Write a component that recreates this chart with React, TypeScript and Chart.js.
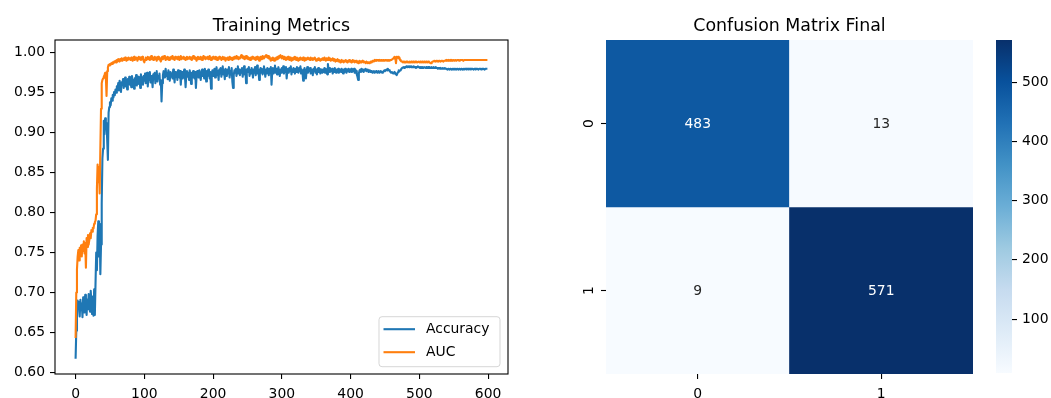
import React, { useEffect, useRef } from 'react';
import { Chart, registerables } from 'chart.js';

Chart.register(...registerables);

// ---------------- data ----------------
const ACCURACY = [
  0.617, 0.652, 0.668, 0.690, 0.681, 0.688, 0.670, 0.691, 0.678, 0.686, 0.669, 0.694, 0.680, 0.675, 0.697, 0.684, 0.672, 0.691, 0.679, 0.698,
  0.683, 0.676, 0.702, 0.688, 0.673, 0.695, 0.671, 0.704, 0.672, 0.712, 0.750, 0.728, 0.771, 0.789, 0.745, 0.786, 0.723, 0.760, 0.812, 0.868,
  0.880, 0.915, 0.898, 0.918, 0.905, 0.912, 0.890, 0.866, 0.925, 0.932, 0.938, 0.934, 0.943, 0.940, 0.947, 0.944, 0.951, 0.947, 0.954, 0.950,
  0.958, 0.954, 0.962, 0.953, 0.965, 0.958, 0.951, 0.963, 0.960, 0.967, 0.956, 0.963, 0.969, 0.958, 0.965, 0.954, 0.967, 0.962, 0.970, 0.960,
  0.964, 0.957, 0.971, 0.962, 0.966, 0.955, 0.968, 0.963, 0.972, 0.959, 0.966, 0.970, 0.961, 0.968, 0.956, 0.973, 0.964, 0.969, 0.960, 0.971,
  0.965, 0.974, 0.962, 0.969, 0.975, 0.958, 0.970, 0.966, 0.976, 0.963, 0.971, 0.968, 0.957, 0.973, 0.967, 0.975, 0.962, 0.970, 0.977, 0.964,
  0.971, 0.968, 0.974, 0.960, 0.966, 0.939, 0.962, 0.972, 0.977, 0.969, 0.974, 0.980, 0.971, 0.975, 0.967, 0.978, 0.972, 0.965, 0.976, 0.970,
  0.974, 0.968, 0.979, 0.972, 0.963, 0.976, 0.970, 0.975, 0.966, 0.978, 0.972, 0.969, 0.977, 0.960, 0.973, 0.976, 0.968, 0.974, 0.979, 0.971,
  0.957, 0.973, 0.977, 0.970, 0.975, 0.966, 0.978, 0.972, 0.961, 0.975, 0.969, 0.977, 0.973, 0.968, 0.976, 0.956, 0.971, 0.977, 0.974, 0.969,
  0.978, 0.972, 0.966, 0.975, 0.979, 0.971, 0.976, 0.968, 0.980, 0.973, 0.964, 0.977, 0.971, 0.979, 0.974, 0.968, 0.976, 0.955, 0.973, 0.978,
  0.971, 0.976, 0.980, 0.969, 0.975, 0.982, 0.972, 0.977, 0.966, 0.979, 0.974, 0.981, 0.970, 0.976, 0.983, 0.973, 0.978, 0.967, 0.980, 0.975,
  0.971, 0.979, 0.974, 0.982, 0.969, 0.977, 0.973, 0.981, 0.964, 0.956, 0.972, 0.978, 0.975, 0.980, 0.971, 0.977, 0.983, 0.974, 0.979, 0.972,
  0.978, 0.975, 0.981, 0.970, 0.977, 0.983, 0.973, 0.979, 0.962, 0.975, 0.980, 0.976, 0.982, 0.971, 0.978, 0.974, 0.981, 0.977, 0.969, 0.979,
  0.975, 0.982, 0.972, 0.978, 0.984, 0.974, 0.979, 0.966, 0.977, 0.981, 0.975, 0.980, 0.973, 0.978, 0.983, 0.976, 0.970, 0.979, 0.974, 0.981,
  0.977, 0.972, 0.980, 0.975, 0.982, 0.960, 0.976, 0.981, 0.974, 0.979, 0.984, 0.975, 0.980, 0.973, 0.978, 0.982, 0.976, 0.971, 0.979, 0.975,
  0.981, 0.977, 0.983, 0.974, 0.979, 0.976, 0.982, 0.968, 0.978, 0.980, 0.975, 0.981, 0.977, 0.983, 0.973, 0.979, 0.976, 0.981, 0.978, 0.974,
  0.980, 0.976, 0.982, 0.978, 0.975, 0.981, 0.977, 0.983, 0.974, 0.979, 0.976, 0.965, 0.978, 0.981, 0.976, 0.968, 0.977, 0.982, 0.975, 0.979,
  0.977, 0.981, 0.974, 0.979, 0.978, 0.972, 0.980, 0.977, 0.982, 0.975, 0.979, 0.973, 0.978, 0.981, 0.976, 0.980, 0.974, 0.979, 0.977, 0.975,
  0.979, 0.976, 0.981, 0.975, 0.980, 0.977, 0.973, 0.986, 0.978, 0.981, 0.976, 0.979, 0.977, 0.980, 0.974, 0.979, 0.976, 0.981, 0.977, 0.975,
  0.979, 0.976, 0.980, 0.975, 0.978, 0.979, 0.976, 0.980, 0.977, 0.974, 0.979, 0.976, 0.980, 0.977, 0.975, 0.979, 0.977, 0.980, 0.976, 0.979,
  0.977, 0.980, 0.976, 0.979, 0.977, 0.980, 0.975, 0.979, 0.977, 0.973, 0.970, 0.966, 0.974, 0.978, 0.979, 0.976, 0.980, 0.977, 0.979, 0.976,
  0.979, 0.978, 0.980, 0.977, 0.978, 0.979, 0.976, 0.978, 0.977, 0.976, 0.977, 0.976, 0.975, 0.976, 0.977, 0.975, 0.976, 0.977, 0.976, 0.975,
  0.976, 0.977, 0.975, 0.976, 0.977, 0.976, 0.975, 0.976, 0.977, 0.978, 0.977, 0.978, 0.979, 0.978, 0.980, 0.979, 0.978, 0.977, 0.976, 0.975,
  0.976, 0.975, 0.974, 0.975, 0.976, 0.974, 0.973, 0.972, 0.974, 0.976, 0.978, 0.977, 0.978, 0.979, 0.980, 0.981, 0.981, 0.982, 0.981, 0.982,
  0.982, 0.983, 0.982, 0.982, 0.983, 0.982, 0.983, 0.983, 0.982, 0.983, 0.982, 0.982, 0.983, 0.982, 0.982, 0.981, 0.982, 0.982, 0.983, 0.982,
  0.982, 0.981, 0.982, 0.982, 0.981, 0.982, 0.981, 0.982, 0.982, 0.981, 0.982, 0.981, 0.981, 0.982, 0.981, 0.982, 0.981, 0.981, 0.982, 0.981,
  0.981, 0.982, 0.981, 0.981, 0.982, 0.981, 0.981, 0.980, 0.981, 0.981, 0.980, 0.981, 0.980, 0.980, 0.981, 0.980, 0.980, 0.981, 0.980, 0.980,
  0.980, 0.979, 0.980, 0.980, 0.979, 0.980, 0.980, 0.979, 0.980, 0.979, 0.980, 0.980, 0.979, 0.980, 0.979, 0.980, 0.980, 0.979, 0.980, 0.980,
  0.979, 0.980, 0.980, 0.979, 0.980, 0.979, 0.980, 0.980, 0.980, 0.979, 0.980, 0.980, 0.979, 0.980, 0.980, 0.979, 0.980, 0.980, 0.980, 0.979,
  0.980, 0.980, 0.979, 0.980, 0.980, 0.980, 0.979, 0.980, 0.980, 0.980, 0.979, 0.980, 0.980, 0.980, 0.980, 0.979, 0.980, 0.980, 0.980, 0.980,
];

const AUC = [
  0.643, 0.700, 0.729, 0.745, 0.753, 0.740, 0.756, 0.748, 0.759, 0.745, 0.760, 0.752, 0.764, 0.749, 0.762, 0.731, 0.768, 0.757, 0.772, 0.760,
  0.766, 0.774, 0.768, 0.778, 0.776, 0.781, 0.780, 0.786, 0.788, 0.790, 0.798, 0.830, 0.860, 0.838, 0.857, 0.824, 0.880, 0.930, 0.962, 0.966,
  0.968, 0.970, 0.972, 0.975, 0.971, 0.946, 0.977, 0.982, 0.985, 0.984, 0.986, 0.985, 0.987, 0.986, 0.988, 0.987, 0.989, 0.988, 0.990, 0.988,
  0.991, 0.989, 0.992, 0.990, 0.989, 0.992, 0.990, 0.993, 0.990, 0.992, 0.993, 0.991, 0.994, 0.992, 0.990, 0.993, 0.991, 0.994, 0.992, 0.993,
  0.991, 0.994, 0.992, 0.990, 0.993, 0.995, 0.991, 0.993, 0.992, 0.994, 0.990, 0.993, 0.995, 0.992, 0.994, 0.991, 0.993, 0.995, 0.992, 0.990,
  0.988, 0.992, 0.994, 0.991, 0.993, 0.995, 0.992, 0.994, 0.991, 0.993, 0.996, 0.992, 0.994, 0.991, 0.993, 0.995, 0.992, 0.994, 0.990, 0.993,
  0.995, 0.992, 0.994, 0.991, 0.989, 0.993, 0.995, 0.992, 0.994, 0.996, 0.993, 0.991, 0.994, 0.992, 0.995, 0.993, 0.991, 0.994, 0.992, 0.995,
  0.993, 0.996, 0.992, 0.994, 0.991, 0.995, 0.993, 0.994, 0.992, 0.995, 0.993, 0.991, 0.994, 0.996, 0.992, 0.994, 0.993, 0.995, 0.992, 0.994,
  0.991, 0.993, 0.995, 0.992, 0.994, 0.993, 0.995, 0.992, 0.994, 0.991, 0.993, 0.996, 0.993, 0.995, 0.992, 0.994, 0.990, 0.993, 0.995, 0.992,
  0.994, 0.992, 0.995, 0.993, 0.991, 0.994, 0.996, 0.993, 0.995, 0.992, 0.994, 0.993, 0.995, 0.992, 0.994, 0.996, 0.993, 0.991, 0.994, 0.992,
  0.995, 0.993, 0.994, 0.992, 0.995, 0.993, 0.991, 0.994, 0.992, 0.995, 0.993, 0.994, 0.991, 0.993, 0.995, 0.992, 0.994, 0.993, 0.990, 0.993,
  0.992, 0.994, 0.991, 0.993, 0.995, 0.992, 0.994, 0.993, 0.991, 0.994, 0.992, 0.995, 0.993, 0.994, 0.996, 0.993, 0.995, 0.992, 0.994, 0.993,
  0.995, 0.997, 0.994, 0.996, 0.993, 0.995, 0.992, 0.994, 0.996, 0.993, 0.995, 0.992, 0.994, 0.993, 0.991, 0.994, 0.992, 0.995, 0.993, 0.994,
  0.992, 0.994, 0.991, 0.993, 0.995, 0.992, 0.994, 0.990, 0.993, 0.995, 0.992, 0.994, 0.996, 0.993, 0.995, 0.994, 0.996, 0.997, 0.995, 0.994,
  0.996, 0.993, 0.995, 0.992, 0.990, 0.993, 0.991, 0.994, 0.992, 0.990, 0.993, 0.991, 0.994, 0.992, 0.995, 0.993, 0.996, 0.994, 0.997, 0.995,
  0.993, 0.996, 0.994, 0.992, 0.995, 0.993, 0.991, 0.994, 0.992, 0.995, 0.993, 0.991, 0.994, 0.992, 0.990, 0.993, 0.991, 0.994, 0.992, 0.995,
  0.993, 0.991, 0.994, 0.992, 0.990, 0.993, 0.991, 0.994, 0.992, 0.993, 0.991, 0.994, 0.992, 0.990, 0.993, 0.991, 0.993, 0.992, 0.994, 0.992,
  0.993, 0.991, 0.994, 0.992, 0.993, 0.991, 0.993, 0.992, 0.994, 0.992, 0.990, 0.992, 0.991, 0.993, 0.991, 0.992, 0.990, 0.992, 0.991, 0.993,
  0.993, 0.991, 0.994, 0.992, 0.990, 0.993, 0.991, 0.992, 0.994, 0.991, 0.993, 0.990, 0.992, 0.991, 0.993, 0.990, 0.992, 0.991, 0.989, 0.991,
  0.990, 0.992, 0.989, 0.991, 0.990, 0.988, 0.990, 0.991, 0.989, 0.990, 0.988, 0.990, 0.989, 0.991, 0.989, 0.988, 0.990, 0.989, 0.991, 0.989,
  0.990, 0.988, 0.989, 0.991, 0.989, 0.990, 0.988, 0.989, 0.990, 0.988, 0.989, 0.987, 0.989, 0.990, 0.988, 0.989, 0.988, 0.990, 0.989, 0.988,
  0.989, 0.988, 0.987, 0.989, 0.988, 0.987, 0.988, 0.987, 0.988, 0.989, 0.988, 0.989, 0.990, 0.989, 0.990, 0.991, 0.990, 0.991, 0.990, 0.991,
  0.991, 0.990, 0.991, 0.990, 0.991, 0.991, 0.990, 0.991, 0.991, 0.990, 0.991, 0.991, 0.991, 0.990, 0.991, 0.991, 0.990, 0.991, 0.991, 0.991,
  0.991, 0.992, 0.993, 0.994, 0.995, 0.994, 0.987, 0.995, 0.994, 0.995, 0.993, 0.994, 0.991, 0.990, 0.989, 0.989, 0.988, 0.989, 0.988, 0.989,
  0.988, 0.989, 0.988, 0.989, 0.988, 0.988, 0.989, 0.988, 0.989, 0.988, 0.988, 0.989, 0.988, 0.988, 0.989, 0.988, 0.989, 0.988, 0.988, 0.989,
  0.988, 0.989, 0.988, 0.988, 0.989, 0.988, 0.988, 0.989, 0.988, 0.988, 0.989, 0.988, 0.988, 0.989, 0.988, 0.988, 0.987, 0.987, 0.988, 0.989,
  0.989, 0.989, 0.990, 0.989, 0.989, 0.990, 0.989, 0.990, 0.989, 0.990, 0.990, 0.989, 0.990, 0.990, 0.990, 0.989, 0.990, 0.990, 0.990, 0.991,
  0.990, 0.990, 0.991, 0.990, 0.990, 0.991, 0.990, 0.991, 0.990, 0.991, 0.991, 0.990, 0.991, 0.991, 0.990, 0.991, 0.991, 0.991, 0.990, 0.991,
  0.991, 0.991, 0.991, 0.991, 0.990, 0.991, 0.991, 0.991, 0.991, 0.991, 0.991, 0.991, 0.991, 0.991, 0.991, 0.991, 0.991, 0.991, 0.991, 0.991,
  0.991, 0.991, 0.991, 0.991, 0.991, 0.991, 0.991, 0.991, 0.991, 0.991, 0.991, 0.991, 0.991, 0.991, 0.991, 0.991, 0.991, 0.991, 0.991, 0.991,
];

const SERIES_NAMES = ['Accuracy', 'AUC'];
const SERIES_COLORS = ['#1f77b4', '#ff7f0e'];
const LINE_X_TICKS = [0, 100, 200, 300, 400, 500, 600];
const LINE_Y_TICKS = [0.6, 0.65, 0.7, 0.75, 0.8, 0.85, 0.9, 0.95, 1.0];

const CM_LABELS = ['0', '1'];
const CM_ROW0 = [483, 13];
const CM_ROW1 = [9, 571];
const CBAR_TICKS = [100, 200, 300, 400, 500];

const TITLE_LEFT = 'Training Metrics';
const TITLE_RIGHT = 'Confusion Matrix Final';

// ---------------- styling helpers ----------------
const FONT_FAMILY = "'DejaVu Sans', 'Liberation Sans', sans-serif";
const TICK_PX = 13.9;
const TITLE_PX = 17.4;

const BLUES: number[][] = [
  [247, 251, 255], [222, 235, 247], [198, 219, 239], [158, 202, 225], [107, 174, 214],
  [66, 146, 198], [33, 113, 181], [8, 81, 156], [8, 48, 107],
];

function bluesRgb(t: number): number[] {
  const c = Math.max(0, Math.min(1, t)) * (BLUES.length - 1);
  const i = Math.min(BLUES.length - 2, Math.floor(c));
  const f = c - i;
  return [0, 1, 2].map((k) => Math.round(BLUES[i][k] + (BLUES[i + 1][k] - BLUES[i][k]) * f));
}
const rgbStr = (c: number[]) => `rgb(${c[0]},${c[1]},${c[2]})`;
function luminance(c: number[]) {
  const lin = c.map((v) => {
    const s = v / 255;
    return s <= 0.03928 ? s / 12.92 : Math.pow((s + 0.055) / 1.055, 2.4);
  });
  return 0.2126 * lin[0] + 0.7152 * lin[1] + 0.0722 * lin[2];
}

const framePlugin = {
  id: 'frame',
  afterDatasetsDraw(chart: any) {
    const { ctx, chartArea: a } = chart;
    ctx.save();
    ctx.strokeStyle = '#000';
    ctx.lineWidth = 1.1;
    ctx.strokeRect(a.left, a.top, a.right - a.left, a.bottom - a.top);
    ctx.restore();
  },
};

const makeTitlePlugin = (text: string) => ({
  id: 'customTitle',
  afterDraw(chart: any) {
    const { ctx, chartArea: a } = chart;
    ctx.save();
    ctx.font = `${TITLE_PX}px ${FONT_FAMILY}`;
    ctx.fillStyle = '#000';
    ctx.textAlign = 'center';
    ctx.textBaseline = 'alphabetic';
    ctx.fillText(text, (a.left + a.right) / 2, a.top - 8.6);
    ctx.restore();
  },
});

const legendPlugin = {
  id: 'innerLegend',
  afterDraw(chart: any) {
    const { ctx, chartArea: a } = chart;
    const w = 121;
    const h = 50;
    const x = a.right - 8 - w;
    const y = a.bottom - 7.3 - h;
    ctx.save();
    ctx.beginPath();
    const r = 3;
    ctx.moveTo(x + r, y);
    ctx.arcTo(x + w, y, x + w, y + h, r);
    ctx.arcTo(x + w, y + h, x, y + h, r);
    ctx.arcTo(x, y + h, x, y, r);
    ctx.arcTo(x, y, x + w, y, r);
    ctx.closePath();
    ctx.fillStyle = 'rgba(255,255,255,0.8)';
    ctx.fill();
    ctx.strokeStyle = 'rgba(204,204,204,0.8)';
    ctx.lineWidth = 1;
    ctx.stroke();
    ctx.font = `${TICK_PX}px ${FONT_FAMILY}`;
    ctx.textAlign = 'left';
    ctx.textBaseline = 'middle';
    SERIES_NAMES.forEach((name, i) => {
      const cy = y + 12.5 + i * 23;
      ctx.strokeStyle = SERIES_COLORS[i];
      ctx.lineWidth = 2.1;
      ctx.beginPath();
      ctx.moveTo(x + 4.5, cy);
      ctx.lineTo(x + 36, cy);
      ctx.stroke();
      ctx.fillStyle = '#000';
      ctx.fillText(name, x + 47, cy + 0.5);
    });
    ctx.restore();
  },
};

const tickGrid = { display: true, drawOnChartArea: false, drawTicks: true, tickLength: 5, color: '#000', lineWidth: 1.1 };
const tickFont = { family: FONT_FAMILY, size: TICK_PX };

// ---------------- charts ----------------
function LineChart() {
  const ref = useRef<HTMLCanvasElement | null>(null);
  useEffect(() => {
    if (!ref.current) return;
    const epochs = ACCURACY.map((_, i) => i);
    const all = [...ACCURACY, ...AUC];
    const lo = Math.min(...all);
    const hi = Math.max(...all);
    const yPad = (hi - lo) * 0.05;
    const xPad = (epochs[epochs.length - 1] - epochs[0]) * 0.05;
    const series = [ACCURACY, AUC];
    const chart = new Chart(ref.current, {
      type: 'line',
      data: {
        datasets: series.map((vals, si) => ({
          label: SERIES_NAMES[si],
          data: vals.map((v, i) => ({ x: epochs[i], y: v })),
          borderColor: SERIES_COLORS[si],
          backgroundColor: SERIES_COLORS[si],
          borderWidth: 2.1,
          pointRadius: 0,
          tension: 0,
          fill: false,
          borderJoinStyle: 'round',
          order: si === 0 ? 2 : 1,
        })),
      },
      options: {
        animation: false,
        responsive: false,
        events: [],
        layout: { padding: { left: 0, right: 22, top: 40, bottom: 0 } },
        plugins: { legend: { display: false }, tooltip: { enabled: false }, title: { display: false } },
        scales: {
          x: {
            type: 'linear',
            min: epochs[0] - xPad,
            max: epochs[epochs.length - 1] + xPad,
            afterBuildTicks: (s: any) => { s.ticks = LINE_X_TICKS.map((v) => ({ value: v })); },
            afterFit: (s: any) => { s.height = 24; },
            grid: tickGrid,
            border: { display: false },
            ticks: { font: tickFont, color: '#000', padding: 7, autoSkip: false, maxRotation: 0, callback: (v: any) => String(v) },
          },
          y: {
            type: 'linear',
            min: lo - yPad,
            max: hi + yPad,
            afterBuildTicks: (s: any) => { s.ticks = LINE_Y_TICKS.map((v) => ({ value: v })); },
            afterFit: (s: any) => { s.width = 55; },
            grid: tickGrid,
            border: { display: false },
            ticks: { font: tickFont, color: '#000', padding: 5, autoSkip: false, callback: (v: any) => Number(v).toFixed(2) },
          },
        },
      } as any,
      plugins: [framePlugin, makeTitlePlugin(TITLE_LEFT), legendPlugin],
    });
    return () => chart.destroy();
  }, []);
  return <canvas ref={ref} width={530} height={398} style={{ position: 'absolute', left: 0, top: 0 }} />;
}

function HeatmapChart() {
  const ref = useRef<HTMLCanvasElement | null>(null);
  useEffect(() => {
    if (!ref.current) return;
    const rows = [CM_ROW0, CM_ROW1];
    const flat = [...CM_ROW0, ...CM_ROW1];
    const vmin = Math.min(...flat);
    const vmax = Math.max(...flat);
    const colorOf = (v: number) => bluesRgb((v - vmin) / (vmax - vmin));

    const annotatePlugin = {
      id: 'annotate',
      afterDatasetsDraw(chart: any) {
        const { ctx } = chart;
        ctx.save();
        ctx.font = `${TICK_PX}px ${FONT_FAMILY}`;
        ctx.textAlign = 'center';
        ctx.textBaseline = 'middle';
        rows.forEach((row, ri) => {
          const meta = chart.getDatasetMeta(ri);
          row.forEach((v, ci) => {
            const el = meta.data[ci];
            const cy = (el.y + el.base) / 2;
            ctx.fillStyle = luminance(colorOf(v)) > 0.408 ? '#262626' : '#ffffff';
            ctx.fillText(String(v), el.x, cy + 0.5);
          });
        });
        ctx.restore();
      },
    };

    const yLabelsPlugin = {
      id: 'rotatedYLabels',
      afterDraw(chart: any) {
        const { ctx, chartArea: a } = chart;
        const ys = chart.scales.y;
        ctx.save();
        CM_LABELS.forEach((lab, i) => {
          const py = ys.getPixelForValue(i + 0.5);
          ctx.strokeStyle = '#000';
          ctx.lineWidth = 1.1;
          ctx.beginPath();
          ctx.moveTo(a.left - 5, py);
          ctx.lineTo(a.left, py);
          ctx.stroke();
          ctx.save();
          ctx.translate(a.left - 13.5, py);
          ctx.rotate(-Math.PI / 2);
          ctx.font = `${TICK_PX}px ${FONT_FAMILY}`;
          ctx.fillStyle = '#000';
          ctx.textAlign = 'center';
          ctx.textBaseline = 'alphabetic';
          ctx.fillText(lab, 0, 0);
          ctx.restore();
        });
        ctx.restore();
      },
    };

    const chart = new Chart(ref.current, {
      type: 'bar',
      data: {
        labels: CM_LABELS,
        datasets: rows.map((row, ri) => ({
          data: row.map(() => [ri, ri + 1]),
          backgroundColor: row.map((v) => rgbStr(colorOf(v))),
          borderWidth: 0,
          grouped: false,
          barPercentage: 1,
          categoryPercentage: 1,
        })),
      },
      options: {
        animation: false,
        responsive: false,
        events: [],
        layout: { padding: { left: 76, right: 17, top: 40, bottom: 0 } },
        plugins: { legend: { display: false }, tooltip: { enabled: false }, title: { display: false } },
        scales: {
          x: {
            type: 'category',
            afterFit: (s: any) => { s.height = 24; },
            grid: { ...tickGrid, offset: false },
            border: { display: false },
            ticks: { font: tickFont, color: '#000', padding: 7, maxRotation: 0 },
          },
          y: { type: 'linear', min: 0, max: rows.length, reverse: true, display: false },
        },
      } as any,
      plugins: [annotatePlugin, yLabelsPlugin, makeTitlePlugin(TITLE_RIGHT)],
    });
    return () => chart.destroy();
  }, []);
  return <canvas ref={ref} width={460} height={398} style={{ position: 'absolute', left: 530, top: 0 }} />;
}

function ColorbarChart() {
  const ref = useRef<HTMLCanvasElement | null>(null);
  useEffect(() => {
    if (!ref.current) return;
    const flat = [...CM_ROW0, ...CM_ROW1];
    const vmin = Math.min(...flat);
    const vmax = Math.max(...flat);
    const chart = new Chart(ref.current, {
      type: 'bar',
      data: {
        labels: [''],
        datasets: [{
          data: [[vmin, vmax]],
          backgroundColor: (c: any) => {
            const a = c.chart.chartArea;
            if (!a) return rgbStr(BLUES[4]);
            const g = c.chart.ctx.createLinearGradient(0, a.bottom, 0, a.top);
            BLUES.forEach((col, i) => g.addColorStop(i / (BLUES.length - 1), rgbStr(col)));
            return g;
          },
          borderWidth: 0,
          barPercentage: 1,
          categoryPercentage: 1,
        }],
      },
      options: {
        animation: false,
        responsive: false,
        events: [],
        layout: { padding: { left: 6, right: 0, top: 40, bottom: 25 } },
        plugins: { legend: { display: false }, tooltip: { enabled: false }, title: { display: false } },
        scales: {
          x: { type: 'category', display: false },
          y: {
            type: 'linear',
            position: 'right',
            min: vmin,
            max: vmax,
            afterBuildTicks: (s: any) => { s.ticks = CBAR_TICKS.map((v) => ({ value: v })); },
            afterFit: (s: any) => { s.width = 39; },
            grid: tickGrid,
            border: { display: false },
            ticks: { font: tickFont, color: '#000', padding: 5, autoSkip: false, callback: (v: any) => String(v) },
          },
        },
      } as any,
    });
    return () => chart.destroy();
  }, []);
  return <canvas ref={ref} width={61} height={398} style={{ position: 'absolute', left: 990, top: 0 }} />;
}

export default function App() {
  return (
    <div style={{ position: 'absolute', left: 0, top: 0, width: 1051, height: 398, background: '#fff', overflow: 'hidden' }}>
      <LineChart />
      <HeatmapChart />
      <ColorbarChart />
    </div>
  );
}
